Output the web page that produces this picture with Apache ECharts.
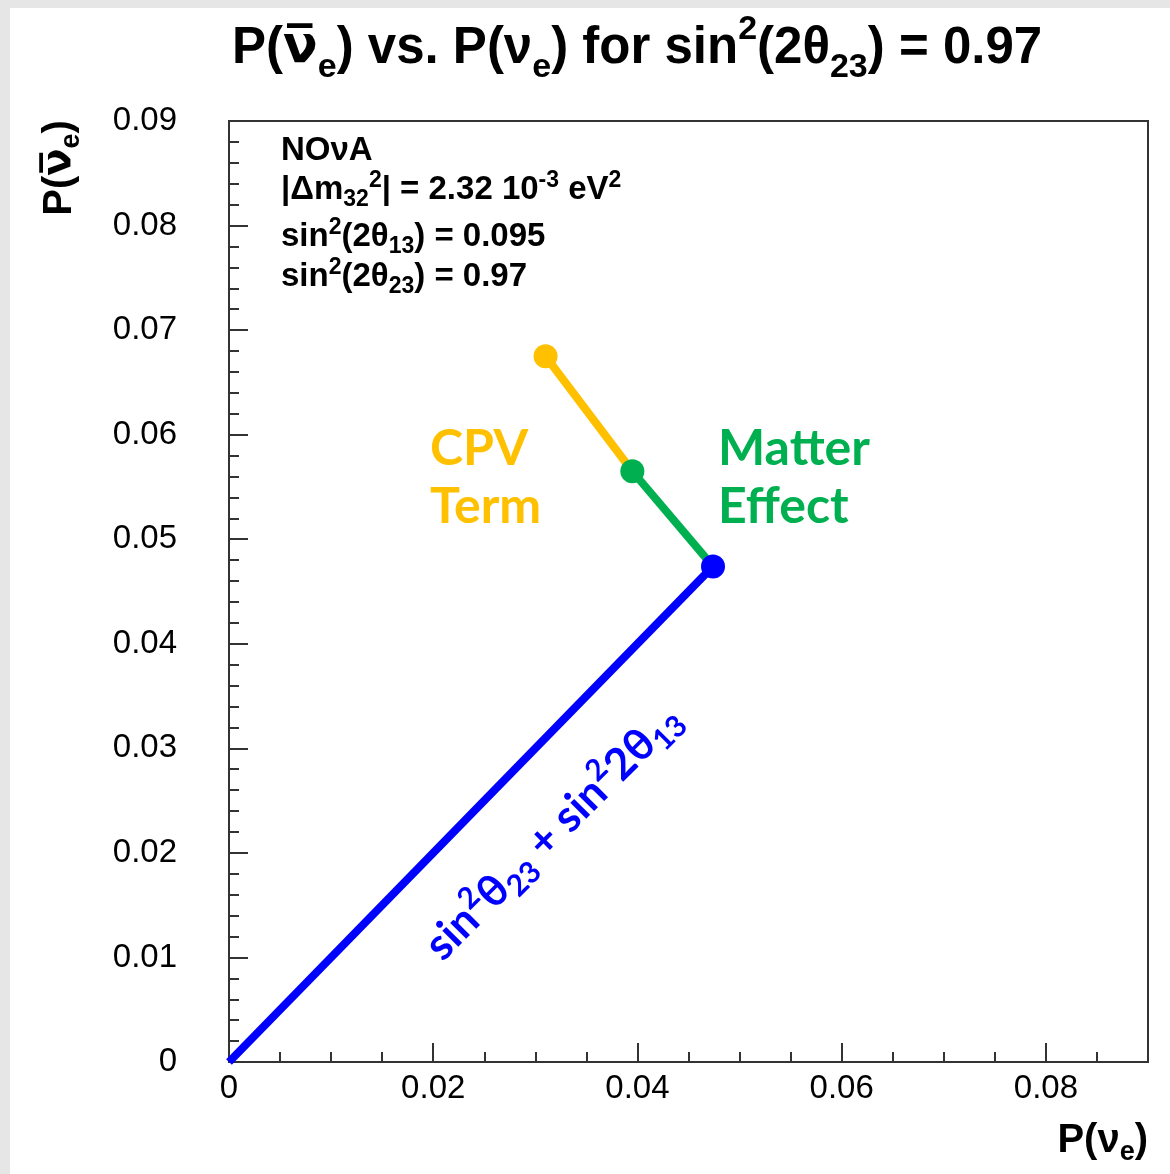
<!DOCTYPE html>
<html>
<head>
<meta charset="utf-8">
<script src="https://cdn.jsdelivr.net/npm/echarts@6/dist/echarts.min.js"></script>
<style>
  html, body { margin: 0; padding: 0; background: #fff; }
  #main { width: 1170px; height: 1174px; }
</style>
</head>
<body>
<div id="main"></div>
<script>
// axis ranges / ticks
const xRange = [0, 0.09];
const yRange = [0, 0.09];
const xMajor = 0.02;
const xMinor = 0.005;
const yMajor = 0.01;

// the three legs of the diagram: [P(nu_e), P(anti-nu_e)]
const originPoint = [0, 0];
const oscPoint = [0.0474, 0.0474];     // sin^2 th23 + sin^2 2th13
const matterPoint = [0.0395, 0.0565];  // after matter effect
const cpvPoint = [0.031, 0.0675];      // after CPV term

const BLUE = '#0000ff', GREEN = '#00b050', ORANGE = '#ffc000';
const AX = '#333333';
const INK = '#000';

var chart = echarts.init(document.getElementById('main'));

const tickLabel = v => (Math.abs(v) < 1e-9 ? '0' : v.toFixed(2));

function leg(from, to, color, width) {
  return {
    type: 'line',
    data: [{ value: from, symbol: 'none' }, { value: to }],
    symbol: 'circle',
    symbolSize: 24,
    itemStyle: { color: color },
    lineStyle: { color: color, width: width },
    silent: true
  };
}

// rich text pieces: n = normal, p = superscript, s = subscript
function richSet(size, small, lh, family, color, smallLh) {
  const base = { fontWeight: 'bold', fontFamily: family, fill: color, color: color };
  return {
    n: Object.assign({ fontSize: size, lineHeight: lh }, base),
    p: Object.assign({ fontSize: small, lineHeight: smallLh, verticalAlign: 'top' }, base),
    s: Object.assign({ fontSize: small, lineHeight: smallLh, verticalAlign: 'bottom' }, base),
    v: Object.assign({ fontSize: size, lineHeight: lh }, base, { fontFamily: 'DejaVu Sans' })
  };
}

function txt(x, y, text, rich, align, rotation) {
  return {
    type: 'text', x: x, y: y, rotation: rotation || 0,
    style: {
      text: text, rich: rich,
      textAlign: align, align: align,
      textVerticalAlign: 'middle', verticalAlign: 'middle'
    }
  };
}

const annRich = richSet(33, 23, 42, 'Liberation Sans', INK, 24);
const titleRich = richSet(51, 34, 72, 'Liberation Sans', INK, 30);
const axNameRich = richSet(40, 27, 50, 'Liberation Sans', INK, 24);
const diagRich = richSet(44, 30, 56, 'Lato', BLUE, 30);

function bigLabel(x, y, text, color) {
  return {
    type: 'text', x: x, y: y,
    style: { text: text, fontFamily: 'Lato', fontWeight: 'bold', fontSize: 50, fill: color,
      textAlign: 'left', align: 'left', textVerticalAlign: 'middle', verticalAlign: 'middle' }
  };
}

let option = {
  animation: false,
  backgroundColor: '#fff',
  grid: {
    left: 229, right: 22, top: 121, bottom: 112,
    show: true, borderColor: AX, borderWidth: 2
  },
  xAxis: [
    {
      type: 'value', min: xRange[0], max: xRange[1], interval: xMajor,
      position: 'bottom',
      axisLine: { lineStyle: { color: AX, width: 2 } },
      axisTick: { inside: true, length: 19, lineStyle: { color: AX, width: 2 } },
      axisLabel: { formatter: tickLabel, showMaxLabel: false, margin: 10,
        fontFamily: 'Liberation Sans', fontSize: 33, color: INK },
      splitLine: { show: false }
    },
    {
      type: 'value', min: xRange[0], max: xRange[1], interval: xMinor,
      position: 'bottom',
      axisLine: { show: false },
      axisTick: { inside: true, length: 10, lineStyle: { color: AX, width: 2 } },
      axisLabel: { show: false },
      splitLine: { show: false }
    }
  ],
  yAxis: {
    type: 'value', min: yRange[0], max: yRange[1], interval: yMajor,
    axisLine: { lineStyle: { color: AX, width: 2 } },
    axisTick: { inside: true, length: 19, lineStyle: { color: AX, width: 2 } },
    minorTick: { show: true, splitNumber: 5, length: 10, lineStyle: { color: AX, width: 2 } },
    axisLabel: { formatter: tickLabel, margin: 52, padding: [6, 0, 0, 0],
      fontFamily: 'Liberation Sans', fontSize: 33, color: INK },
    splitLine: { show: false }
  },
  series: [
    leg(originPoint, oscPoint, BLUE, 8),
    leg(oscPoint, matterPoint, GREEN, 8),
    leg(matterPoint, cpvPoint, ORANGE, 8)
  ],
  graphic: [
    // light grey frame round the picture
    { type: 'rect', shape: { x: 0, y: 0, width: 1170, height: 8 }, style: { fill: '#e6e6e6' }, z: -1 },
    { type: 'rect', shape: { x: 0, y: 0, width: 10, height: 1174 }, style: { fill: '#e6e6e6' }, z: -1 },
    // title
    txt(232, 49, '{n|P(}{v|ν\u0305}{s|e}{n|) vs. P(ν}{s|e}{n|) for sin}{p|2}{n|(2θ}{s|23}{n|) = 0.97}',
      titleRich, 'left'),
    // axis titles
    txt(60, 168, '{n|P(}{v|ν\u0305}{s|e}{n|)}', axNameRich, 'center', Math.PI / 2),
    txt(1148, 1141, '{n|P(ν}{s|e}{n|)}', axNameRich, 'right'),
    // parameters box
    txt(281, 151, '{n|NOνA}', annRich, 'left'),
    txt(281, 190, '{n||Δm}{s|32}{p|2}{n|| = 2.32 10}{p|-3}{n| eV}{p|2}', annRich, 'left'),
    txt(281, 237, '{n|sin}{p|2}{n|(2θ}{s|13}{n|) = 0.095}', annRich, 'left'),
    txt(281, 277, '{n|sin}{p|2}{n|(2θ}{s|23}{n|) = 0.97}', annRich, 'left'),
    // leg labels
    bigLabel(430, 449, 'CPV', ORANGE),
    bigLabel(430, 507, 'Term', ORANGE),
    bigLabel(718, 449, 'Matter', GREEN),
    bigLabel(718, 507, 'Effect', GREEN),
    txt(553, 832, '{n|sin}{p|2}{n|θ}{s|23}{n| + sin}{p|2}{n|2θ}{s|13}', diagRich, 'center', Math.PI / 4)
  ]
};

chart.setOption(option);
</script>
</body>
</html>
